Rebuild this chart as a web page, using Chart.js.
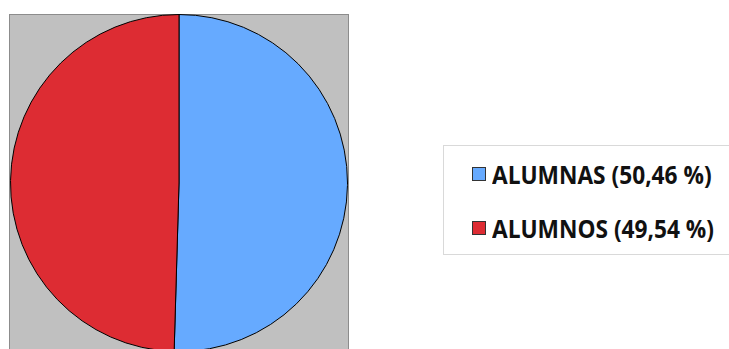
<!DOCTYPE html>
<html>
<head>
<meta charset="utf-8">
<script src="https://cdn.jsdelivr.net/npm/chart.js@4"></script>
<style>
  html, body { margin:0; padding:0; background:#fff; width:729px; height:349px; overflow:hidden; }
  #fondo { position:absolute; left:9px; top:14px; width:338px; height:345px; background:#c0c0c0; border:1px solid #8c8c8c; }
  #pieBox { position:absolute; left:10px; top:14px; width:338px; height:338px; }
  #leyenda { position:absolute; left:443px; top:145px; width:300px; height:108px; border:1px solid #d9d9d9; background:#fff; }
  .item { position:absolute; left:28px; height:20px; display:flex; align-items:center; font-family:"Open Sans", sans-serif; font-weight:bold; color:#111; white-space:nowrap; }
  .item .txt { display:inline-block; transform:scaleY(1.12); transform-origin:left center; }
  .cuadro { width:14px; height:14px; border:1px solid #333; margin-right:6px; box-sizing:border-box; }
</style>
</head>
<body>
<div id="fondo"></div>
<div id="pieBox"><canvas id="grafico"></canvas></div>
<div id="leyenda"></div>
<script>
// datos
const categorias = ['ALUMNAS', 'ALUMNOS'];
const porcentajes = [50.46, 49.54];
const colores = ['#66aaff', '#dd2c33'];

const etiquetas = categorias.map((c, i) => `${c} (${porcentajes[i].toFixed(2).replace('.', ',')} %)`);

// Leyenda propia (a la derecha, dentro de una caja)
const leyenda = document.getElementById('leyenda');
const medir = document.createElement('canvas').getContext('2d');
medir.font = 'bold 20px "Open Sans"';
const tam = 20 * 220 / medir.measureText(etiquetas[0]).width;
const tops = [18, 72];
etiquetas.forEach((txt, i) => {
  const d = document.createElement('div');
  d.className = 'item';
  d.style.top = tops[i] + 'px';
  d.style.fontSize = tam.toFixed(1) + 'px';
  d.innerHTML = `<span class="cuadro" style="background:${colores[i]}"></span><span class="txt">${txt}</span>`;
  leyenda.appendChild(d);
});

const ctx = document.getElementById('grafico').getContext('2d');
new Chart(ctx, {
  type: 'pie',
  data: {
    labels: etiquetas,
    datasets: [{
      data: porcentajes,
      backgroundColor: colores,
      borderColor: '#000',
      borderWidth: 1
    }]
  },
  options: {
    responsive: true,
    maintainAspectRatio: false,
    animation: false,
    layout: { padding: 0 },
    plugins: {
      legend: { display: false },
      tooltip: { enabled: false }
    }
  }
});
</script>
</body>
</html>
